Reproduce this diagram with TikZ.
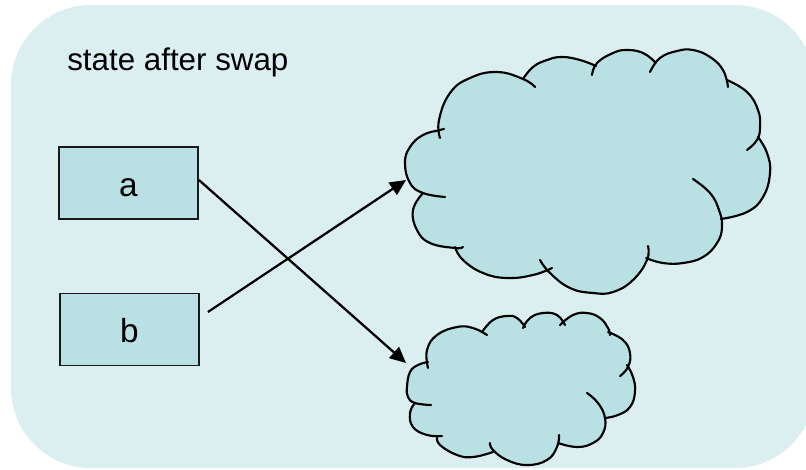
\documentclass[tikz,border=0pt]{standalone}
\usepackage{fontspec}
\setmainfont{Liberation Sans}
\usetikzlibrary{arrows.meta}
\definecolor{bgc}{HTML}{DBEEF0}
\definecolor{fillc}{HTML}{B9E0E3}
\begin{document}
\begin{tikzpicture}[x=0.75pt,y=-0.75pt,
  box/.style={draw=black!90, line width=1.35pt, fill=fillc, minimum width=104.25pt, minimum height=54pt, inner sep=0pt, text height=19.5pt, text depth=0pt, font=\fontsize{25}{30}\selectfont},
  arr/.style={line width=1.7pt, -{Triangle[length=12pt,width=11pt]}},
  cloudline/.style={line width=1.6pt, line cap=round, line join=round},
  lobe/.style={smooth, tension=0.75}]
\useasboundingbox (0,0) rectangle (806,469);
\clip (0,0) rectangle (806,469);
\fill[bgc, rounded corners=60pt] (11,5) rectangle (815,468);
\node[anchor=base west, inner sep=0pt, font=\fontsize{23.5}{28}\selectfont] (title) at (67,70) {state after swap};
\node[box] (a) at (128.5,183) {a};
\node[box] (b) at (129.5,329.5) {b};
% big cloud
\fill[fillc] plot[lobe] coordinates {(423,193) (410,183) (405,163) (410,147) (423,135) (440,130)}
 -- plot[lobe] coordinates {(440,130) (439,120) (450,93) (470,78) (497,72) (523,79)}
 -- plot[lobe] coordinates {(523,79) (533,67) (547,60) (562,57) (580,60) (596,66)}
 -- plot[lobe] coordinates {(596,66) (613,53) (627,50) (643,53) (655,63)}
 -- plot[lobe] coordinates {(655,63) (677,51) (693,50) (710,57) (723,70) (727,80)}
 -- plot[lobe] coordinates {(727,80) (747,92) (758,110) (760,127) (758,137)}
 -- plot[lobe] coordinates {(758,137) (767,153) (770,173) (763,197) (747,212) (721,219)}
 -- plot[lobe] coordinates {(721,219) (722,227) (717,243) (703,257) (683,263) (663,263) (646,258)}
 -- plot[lobe] coordinates {(646,258) (633,280) (613,292) (593,293) (570,288) (550,271)}
 -- plot[lobe] coordinates {(550,271) (533,275) (507,278) (483,273) (463,260) (455,247)}
 -- plot[lobe] coordinates {(455,247) (430,243) (417,230) (413,210) (423,193)}
 -- cycle;
\begin{scope}[cloudline]
\draw plot[lobe] coordinates {(445,197) (423,193) (410,183) (405,163) (410,147) (423,135) (440,130) (444,129)};
\draw plot[lobe] coordinates {(440,138) (439,120) (450,93) (470,78) (497,72) (523,79) (535,87)};
\draw plot[lobe] coordinates {(523,79) (533,67) (547,60) (562,57) (580,60) (596,66)};
\draw plot[lobe] coordinates {(592,75) (597,63) (613,53) (627,50) (643,53) (655,62)};
\draw plot[lobe] coordinates {(650,72) (660,58) (677,51) (693,50) (710,57) (723,70) (728,87)};
\draw plot[lobe] coordinates {(727,80) (747,92) (758,110) (760,127) (757,140) (747,150)};
\draw plot[lobe] coordinates {(758,137) (767,153) (770,173) (763,197) (747,212) (721,219)};
\draw plot[lobe] coordinates {(693,179) (710,193) (719,210) (722,227) (717,243) (703,257) (683,263) (663,263) (646,258)};
\draw plot[lobe] coordinates {(648,246) (647,260) (633,280) (613,292) (593,293) (570,288) (550,273) (540,260)};
\draw plot[lobe] coordinates {(552,268) (533,275) (507,278) (483,273) (463,260) (455,247)};
\draw plot[lobe] coordinates {(463,247) (455,248) (430,243) (417,230) (413,210) (423,193)};
\end{scope}
% small cloud
\fill[fillc] plot[lobe] coordinates {(415,403) (408,397) (407,387) (410,372) (418,365) (428,362)}
 -- plot[lobe] coordinates {(428,362) (427,350) (437,335) (457,327) (473,328) (482,332)}
 -- plot[lobe] coordinates {(482,332) (493,320) (507,316) (517,318) (524,323)}
 -- plot[lobe] coordinates {(524,323) (530,318) (543,313) (557,315) (562,321)}
 -- plot[lobe] coordinates {(562,321) (573,315) (587,313) (600,318) (608,330)}
 -- plot[lobe] coordinates {(608,330) (623,340) (630,353) (627,365)}
 -- plot[lobe] coordinates {(627,365) (633,377) (635,392) (630,407) (618,415) (605,418)}
 -- plot[lobe] coordinates {(605,418) (603,433) (593,443) (577,447) (558,443)}
 -- plot[lobe] coordinates {(558,443) (547,460) (527,465) (507,460) (493,451)}
 -- plot[lobe] coordinates {(493,451) (473,457) (457,455) (440,445) (437,437)}
 -- plot[lobe] coordinates {(437,437) (427,435) (413,427) (410,413) (415,403)}
 -- cycle;
\begin{scope}[cloudline]
\draw plot[lobe] coordinates {(431,405) (415,403) (408,397) (407,387) (410,372) (418,365) (428,362)};
\draw plot[lobe] coordinates {(428,368) (427,350) (437,335) (457,327) (473,328) (487,335)};
\draw plot[lobe] coordinates {(482,332) (493,320) (507,316) (517,318) (525,327)};
\draw plot[lobe] coordinates {(523,328) (530,318) (543,313) (557,315) (565,325)};
\draw plot[lobe] coordinates {(560,325) (573,315) (587,313) (600,318) (608,328) (610,335)};
\draw plot[lobe] coordinates {(608,332) (623,340) (630,353) (628,367) (620,376)};
\draw plot[lobe] coordinates {(627,365) (633,377) (635,392) (630,407) (618,415) (605,418)};
\draw plot[lobe] coordinates {(587,393) (598,403) (605,418) (603,433) (593,443) (577,447) (558,443)};
\draw plot[lobe] coordinates {(559,435) (557,447) (547,460) (527,465) (507,460) (493,450) (490,443)};
\draw plot[lobe] coordinates {(493,452) (473,457) (457,455) (440,445) (437,437)};
\draw plot[lobe] coordinates {(442,436) (427,435) (413,427) (410,413) (415,403)};
\end{scope}
\coordinate (bigtip) at (406,180);
\coordinate (smalltip) at (406,363);
\draw[arr] ([yshift=2.25pt]a.east) -- (smalltip);
\draw[arr] ([shift={(8,-17.5)}]b.east) -- (bigtip);
\end{tikzpicture}
\end{document}
